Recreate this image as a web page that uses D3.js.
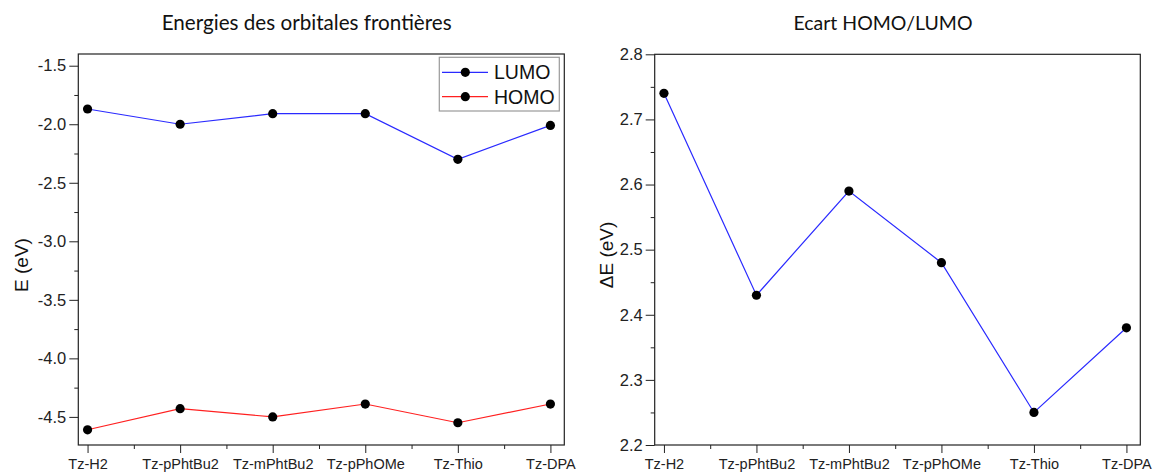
<!DOCTYPE html>
<html><head><meta charset="utf-8">
<script src="https://cdn.jsdelivr.net/npm/d3@7"></script>
<style>body{margin:0;background:#fff}svg{display:block}</style>
</head><body>
<svg id="c" width="1153" height="473"></svg>
<script>
const categories = ["Tz-H2","Tz-pPhtBu2","Tz-mPhtBu2","Tz-pPhOMe","Tz-Thio","Tz-DPA"];
const lumo = [-1.87,-2.00,-1.91,-1.91,-2.30,-2.01];
const homo = [-4.61,-4.43,-4.50,-4.39,-4.55,-4.39];
const gap = [2.74,2.43,2.59,2.48,2.25,2.38];
const leftTicks = [-4.5,-4.0,-3.5,-3.0,-2.5,-2.0,-1.5];
const rightTicks = [2.2,2.3,2.4,2.5,2.6,2.7,2.8];

const svg = d3.select("#c");
const tickFont = "'Liberation Sans', Arial, sans-serif";
const titleFont = "Lato, Calibri, sans-serif";
const fmt = v => d3.format(".1f")(v).replace("\u2212","-");

function panel(opt){
  const g = svg.append("g");
  const x = d3.scaleLinear().domain([-0.1, categories.length - 0.85]).range([opt.x0, opt.x1]);
  const y = d3.scaleLinear().domain(opt.ydom).range([opt.y1, opt.y0]);
  g.append("rect").attr("x",opt.x0).attr("y",opt.y0).attr("width",opt.x1-opt.x0).attr("height",opt.y1-opt.y0)
    .attr("fill","none").attr("stroke","#222").attr("stroke-width",1.2);
  const xa = d3.axisBottom(x).tickValues(d3.range(categories.length)).tickFormat(i=>categories[i]).tickSize(8).tickPadding(6);
  const gx = g.append("g").attr("transform",`translate(0,${opt.y1})`).call(xa);
  gx.attr("font-family",null);
  gx.select(".domain").remove();
  gx.selectAll("line").attr("stroke","#222");
  gx.selectAll("text").style("font-family",tickFont).style("font-size","14.5px").attr("fill","#222");
  const xm = d3.axisBottom(x).tickValues(d3.range(categories.length-1).map(i=>i+0.5)).tickFormat("").tickSize(4);
  const gxm = g.append("g").attr("transform",`translate(0,${opt.y1})`).call(xm);
  gxm.select(".domain").remove(); gxm.selectAll("line").attr("stroke","#222");
  const ya = d3.axisLeft(y).tickValues(opt.ticks).tickFormat(fmt).tickSize(9).tickPadding(3);
  const gy = g.append("g").attr("transform",`translate(${opt.x0},0)`).call(ya);
  gy.select(".domain").remove();
  gy.selectAll("line").attr("stroke","#222");
  gy.selectAll("text").style("font-family",tickFont).style("font-size","16.5px").attr("fill","#222");
  const minor = [];
  for(let i=0;i<opt.ticks.length-1;i++) minor.push((opt.ticks[i]+opt.ticks[i+1])/2);
  const ym = d3.axisLeft(y).tickValues(minor).tickFormat("").tickSize(4);
  const gym = g.append("g").attr("transform",`translate(${opt.x0},0)`).call(ym);
  gym.select(".domain").remove(); gym.selectAll("line").attr("stroke","#222");
  g.append("text").attr("transform",`translate(${opt.labX},${opt.labY}) rotate(-90)`)
    .attr("text-anchor","middle").style("font-family",tickFont).style("font-size","19px").attr("fill","#111").text(opt.ylabel);
  const t = g.append("text").attr("x",opt.titleX).attr("y",30).attr("text-anchor","middle")
    .style("font-family",titleFont).style("font-size","18px").attr("fill","#111").text(opt.title);
  const w = t.node().getComputedTextLength();
  t.style("font-size", (18*opt.titleW/w)+"px");
  opt.series.forEach(s=>{
    const line = d3.line().x((d,i)=>x(i)).y(d=>y(d));
    g.append("path").datum(s.values).attr("d",line).attr("fill","none").attr("stroke",s.color).attr("stroke-width",1.2);
    g.selectAll(null).data(s.values).enter().append("circle")
      .attr("cx",(d,i)=>x(i)).attr("cy",d=>y(d)).attr("r",4.6).attr("fill","#000");
  });
  return {g,x,y};
}

panel({x0:78.3,x1:564.3,y0:54,y1:445,ydom:[-4.74,-1.4],ticks:leftTicks,
  ylabel:"E (eV)",labX:28,labY:265,title:"Energies des orbitales frontières",titleX:306.7,titleW:290,
  series:[{values:lumo,color:"#2a2aff"},{values:homo,color:"#ff2020"}]});
panel({x0:654.7,x1:1140.3,y0:54.3,y1:445,ydom:[2.2,2.8],ticks:rightTicks,
  ylabel:"ΔE (eV)",labX:613,labY:255,title:"Ecart HOMO/LUMO",titleX:883,titleW:179,
  series:[{values:gap,color:"#2a2aff"}]});

const lg = svg.append("g");
lg.append("rect").attr("x",439.3).attr("y",57.3).attr("width",120).attr("height",53.7)
  .attr("fill","#fff").attr("stroke","#999").attr("stroke-width",1.2);
const legendItems = [{name:"LUMO",color:"#2a2aff"},{name:"HOMO",color:"#ff2020"}];
legendItems.forEach((it,i)=>{
  const yy = 72.3 + i*24.4;
  lg.append("line").attr("x1",442).attr("x2",488).attr("y1",yy).attr("y2",yy).attr("stroke",it.color).attr("stroke-width",1.2);
  lg.append("circle").attr("cx",465.3).attr("cy",yy).attr("r",4.6).attr("fill","#000");
  lg.append("text").attr("x",494).attr("y",yy+7).style("font-family",tickFont).style("font-size","19.5px").attr("fill","#111").text(it.name);
});
</script>
</body></html>
